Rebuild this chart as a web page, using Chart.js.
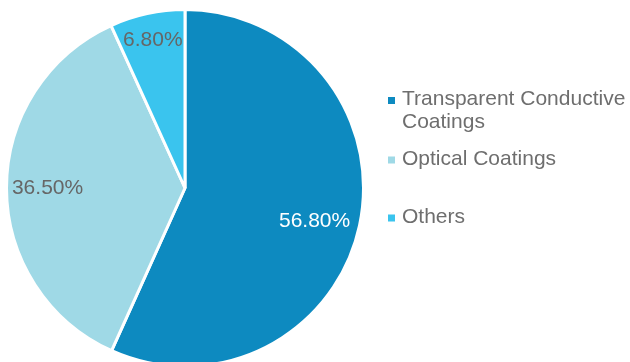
<!DOCTYPE html>
<html>
<head>
<meta charset="utf-8">
<script src="https://cdn.jsdelivr.net/npm/chart.js@4/dist/chart.umd.min.js"></script>
<style>
  html, body { margin: 0; padding: 0; background: #ffffff; overflow: hidden; }
  #wrap { position: absolute; left: 0; top: 0; width: 630px; height: 380px; }
</style>
</head>
<body>
<div id="wrap"><canvas id="chart"></canvas></div>
<script>
// Market share by application segment
const categories = ['Transparent Conductive Coatings', 'Optical Coatings', 'Others'];
const shares = [56.8, 36.5, 6.8];
const valueLabels = ['56.80%', '36.50%', '6.80%'];
const sliceColors = ['#0D8AC0', '#9FD9E6', '#3AC4EE'];
const labelColors = ['#FFFFFF', '#666666', '#666666'];

const FONT = '"Liberation Sans", Arial, Helvetica, sans-serif';

// Percentage text inside each slice, placed along the slice's middle angle
const sliceLabels = {
  id: 'sliceLabels',
  afterDatasetsDraw(chart, args, opts) {
    const ctx = chart.ctx;
    const arcs = chart.getDatasetMeta(0).data;
    ctx.save();
    ctx.font = opts.font;
    ctx.textAlign = 'center';
    ctx.textBaseline = 'middle';
    arcs.forEach((arc, i) => {
      const p = arc.getProps(['x', 'y', 'startAngle', 'endAngle', 'outerRadius'], true);
      const mid = (p.startAngle + p.endAngle) / 2 + opts.angleShift[i] * Math.PI / 180;
      const r = p.outerRadius * opts.radiusFactor[i];
      ctx.fillStyle = labelColors[i];
      ctx.fillText(valueLabels[i], p.x + Math.cos(mid) * r, p.y + Math.sin(mid) * r);
    });
    ctx.restore();
  }
};

// Legend on the right with small square markers and wrapped names
const sideLegend = {
  id: 'sideLegend',
  afterDraw(chart, args, opts) {
    const ctx = chart.ctx;
    ctx.save();
    ctx.font = opts.font;
    ctx.textAlign = 'left';
    ctx.textBaseline = 'alphabetic';
    categories.forEach((name, i) => {
      // word wrap to available width
      const words = name.split(' ');
      const lines = [];
      let line = '';
      words.forEach(w => {
        const test = line ? line + ' ' + w : w;
        if (line && ctx.measureText(test).width > opts.maxWidth) {
          lines.push(line);
          line = w;
        } else {
          line = test;
        }
      });
      lines.push(line);
      const base = opts.baselines[i];
      ctx.fillStyle = sliceColors[i];
      ctx.fillRect(opts.markerX, base - opts.markerRise, opts.markerSize, opts.markerSize);
      ctx.fillStyle = opts.color;
      lines.forEach((ln, k) => ctx.fillText(ln, opts.textX, base + k * opts.lineHeight));
    });
    ctx.restore();
  }
};

new Chart(document.getElementById('chart'), {
  type: 'pie',
  data: {
    labels: categories,
    datasets: [{
      data: shares,
      backgroundColor: sliceColors,
      borderColor: '#FFFFFF',
      borderWidth: 3,
      hoverOffset: 0
    }]
  },
  options: {
    responsive: true,
    maintainAspectRatio: false,
    animation: false,
    radius: 178.5,
    layout: { padding: { left: 5, top: 8, right: 265, bottom: 12 } },
    events: [],
    plugins: {
      legend: { display: false },
      tooltip: { enabled: false },
      sliceLabels: {
        font: '21px ' + FONT,
        radiusFactor: [0.75, 0.77, 0.85],
        angleShift: [2.4, 0, 0]
      },
      sideLegend: {
        font: '21px ' + FONT,
        color: '#6E6E6E',
        textX: 402,
        markerX: 388,
        markerSize: 7,
        markerRise: 8,
        maxWidth: 228,
        lineHeight: 23,
        baselines: [105, 164.5, 222.5]
      }
    }
  },
  plugins: [sliceLabels, sideLegend]
});
</script>
</body>
</html>
